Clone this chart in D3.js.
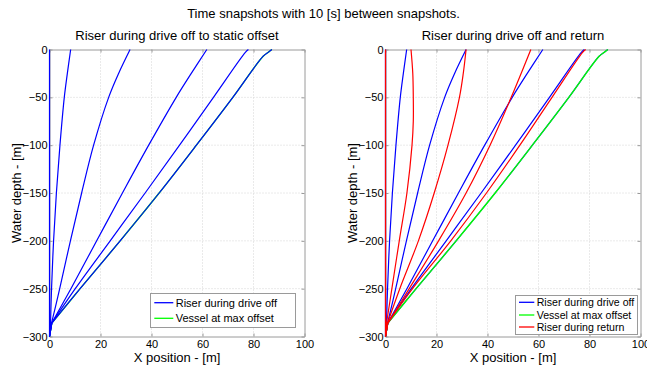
<!DOCTYPE html>
<html>
<head>
<meta charset="utf-8">
<script src="https://cdn.jsdelivr.net/npm/d3@7"></script>
<style>
  html, body { margin: 0; padding: 0; background: #fff; }
  svg { display: block; font-family: "Liberation Sans", Arial, Helvetica, sans-serif; }
</style>
</head>
<body>
<svg id="chart" width="647" height="367"></svg>
<script>
// Riser shapes as [x position (m), water depth (m)] points from the sea surface (0)
// down to the flex joint just above the seabed; every riser ends at the seabed anchor.
const seabedAnchor = [0, -300];

const driveOffSnapshots = [
  [[0, 0], [0, -286]],
  [[8.3, 0], [7.0, -25], [5.8, -50], [4.1, -100], [2.7, -150], [1.6, -200], [0.8, -250], [0.4, -286]],
  [[31.6, 0], [27.1, -25], [23.2, -50], [17.3, -100], [12.6, -150], [8.2, -200], [4.0, -250], [0.8, -286]],
  [[61.7, 0], [55.6, -25], [49.7, -50], [38.9, -100], [28.6, -150], [18.5, -200], [8.4, -250], [0.9, -286]],
  [[78.0, 0], [76.8, -3], [64.3, -50], [51.0, -100], [37.5, -150], [23.8, -200], [10.1, -250], [0.9, -286]],
  [[87.2, 0], [86.0, -2.5], [83.8, -7], [71.9, -50], [57.6, -100], [43.0, -150], [27.7, -200], [12.0, -250], [0.9, -286]]
];

const vesselMaxOffset = [[87.2, 0], [86.0, -2.5], [83.8, -7], [71.9, -50], [57.6, -100], [43.0, -150], [27.7, -200], [12.0, -250], [0.9, -286]];

const returnSnapshots = [
  [[10.0, 0], [10.7, -25], [10.9, -50], [10.9, -75], [10.4, -100], [8.4, -150], [5.4, -200], [2.5, -250], [0.4, -286]],
  [[31.6, 0], [30.5, -25], [29.0, -50], [24.5, -100], [19.1, -150], [12.9, -200], [5.6, -250], [0.8, -286]],
  [[57.0, 0], [49.3, -50], [41.0, -100], [31.6, -150], [20.8, -200], [9.3, -250], [0.9, -286]],
  [[78.5, 0], [77.3, -3], [65.3, -50], [52.7, -100], [39.6, -150], [25.6, -200], [10.6, -250], [0.9, -286]],
  [[0, 0], [0, -286]]
];

const xTicks = [0, 20, 40, 60, 80, 100];
const yTicks = [0, -50, -100, -150, -200, -250, -300];

const superTitle = "Time snapshots with 10 [s] between snapshots.";
const leftTitle = "Riser during drive off to static offset";
const rightTitle = "Riser during drive off and return";
const xLabel = "X position - [m]";
const yLabel = "Water depth - [m]";
const legendDriveOff = "Riser during drive off";
const legendVessel = "Vessel at max offset";
const legendReturn = "Riser during return";

const BLUE = "#0000ff", GREEN = "#00ff00", RED = "#ff0000";
const AXIS = "#9a9a9a", GRID = "#d4d4d4";

const svg = d3.select("#chart");

svg.append("text")
  .attr("x", 323.5).attr("y", 18.3)
  .attr("text-anchor", "middle")
  .attr("font-size", 13)
  .text(superTitle);

function drawPanel(opts) {
  const x = d3.scaleLinear().domain([0, 100]).range([opts.left, opts.left + 255]);
  const y = d3.scaleLinear().domain([-300, 0]).range([336.5, 49.5]);
  const g = svg.append("g");

  // dotted grid
  g.append("g").selectAll("line").data(xTicks.slice(1, -1)).join("line")
    .attr("x1", d => x(d)).attr("x2", d => x(d))
    .attr("y1", y(0)).attr("y2", y(-300))
    .attr("stroke", GRID).attr("stroke-dasharray", "1,2");
  g.append("g").selectAll("line").data(yTicks.slice(1, -1)).join("line")
    .attr("x1", x(0)).attr("x2", x(100))
    .attr("y1", d => y(d)).attr("y2", d => y(d))
    .attr("stroke", GRID).attr("stroke-dasharray", "1,2");

  // axes box with inward ticks
  const bottom = d3.axisBottom(x).tickValues(xTicks).tickSizeInner(-3).tickSizeOuter(0).tickPadding(4);
  const left = d3.axisLeft(y).tickValues(yTicks).tickSizeInner(-3).tickSizeOuter(0).tickPadding(2);
  const top = d3.axisTop(x).tickValues(xTicks).tickSizeInner(-3).tickSizeOuter(0).tickFormat("");
  const right = d3.axisRight(y).tickValues(yTicks).tickSizeInner(-3).tickSizeOuter(0).tickFormat("");

  const styleAxis = sel => {
    sel.select(".domain").attr("stroke", AXIS);
    sel.selectAll(".tick line").attr("stroke", AXIS);
    sel.selectAll(".tick text").attr("fill", "#000").attr("font-size", 11)
      .attr("font-family", "'Liberation Sans', Arial, sans-serif");
  };
  g.append("g").attr("transform", `translate(0,${y(-300)})`).call(bottom).call(styleAxis);
  g.append("g").attr("transform", `translate(${x(0)},0)`).call(left).call(styleAxis);
  g.append("g").attr("transform", `translate(0,${y(0)})`).call(top).call(styleAxis);
  g.append("g").attr("transform", `translate(${x(100)},0)`).call(right).call(styleAxis);

  // titles and labels
  g.append("text").attr("x", x(50)).attr("y", 39.5)
    .attr("text-anchor", "middle").attr("font-size", 13).text(opts.title);
  g.append("text").attr("x", x(50)).attr("y", 362)
    .attr("text-anchor", "middle").attr("font-size", 13).text(xLabel);
  g.append("text")
    .attr("transform", `translate(${opts.ylabelX},${y(-150)}) rotate(-90)`)
    .attr("text-anchor", "middle").attr("font-size", 13).text(yLabel);

  // smooth riser shape down to the flex joint, straight segment to the anchor
  const line = d3.line().x(d => x(d[0])).y(d => y(d[1])).curve(d3.curveCatmullRom.alpha(0.5));
  const riserPath = pts => line(pts) + "L" + x(seabedAnchor[0]) + "," + y(seabedAnchor[1]);

  const curves = g.append("g").attr("fill", "none");
  opts.layers.forEach(layer => {
    curves.append("g").selectAll("path").data(layer.data).join("path")
      .attr("d", riserPath)
      .attr("stroke", layer.color)
      .attr("stroke-width", layer.width)
      .attr("stroke-linejoin", "round");
  });

  // legend
  const lg = g.append("g");
  const L = opts.legend;
  lg.append("rect").attr("x", L.x).attr("y", L.y).attr("width", L.w).attr("height", L.h)
    .attr("fill", "#fff").attr("stroke", AXIS);
  L.items.forEach((it, i) => {
    const yy = L.rowY[i];
    lg.append("line").attr("x1", L.lineX0).attr("x2", L.lineX1).attr("y1", yy).attr("y2", yy)
      .attr("stroke", it.color).attr("stroke-width", 1.3);
    lg.append("text").attr("x", L.textX).attr("y", yy).attr("dy", "0.35em")
      .attr("font-size", L.fontSize).text(it.label);
  });
}

drawPanel({
  left: 49.5,
  title: leftTitle,
  ylabelX: 21,
  layers: [
    { data: [vesselMaxOffset], color: GREEN, width: 1.4 },
    { data: driveOffSnapshots, color: BLUE, width: 1.2 }
  ],
  legend: {
    x: 150.5, y: 293.5, w: 145, h: 34,
    lineX0: 154.3, lineX1: 173.3, textX: 175.7, fontSize: 11,
    rowY: [302.7, 318.3],
    items: [
      { color: BLUE, label: legendDriveOff },
      { color: GREEN, label: legendVessel }
    ]
  }
});

drawPanel({
  left: 385.5,
  title: rightTitle,
  ylabelX: 356.5,
  layers: [
    { data: driveOffSnapshots, color: BLUE, width: 1.2 },
    { data: [vesselMaxOffset], color: GREEN, width: 1.4 },
    { data: returnSnapshots, color: RED, width: 1.2 }
  ],
  legend: {
    x: 515.5, y: 295.5, w: 122, h: 39,
    lineX0: 519, lineX1: 534.3, textX: 536.7, fontSize: 10.6,
    rowY: [302.3, 315, 327],
    items: [
      { color: BLUE, label: legendDriveOff },
      { color: GREEN, label: legendVessel },
      { color: RED, label: legendReturn }
    ]
  }
});
</script>
</body>
</html>
